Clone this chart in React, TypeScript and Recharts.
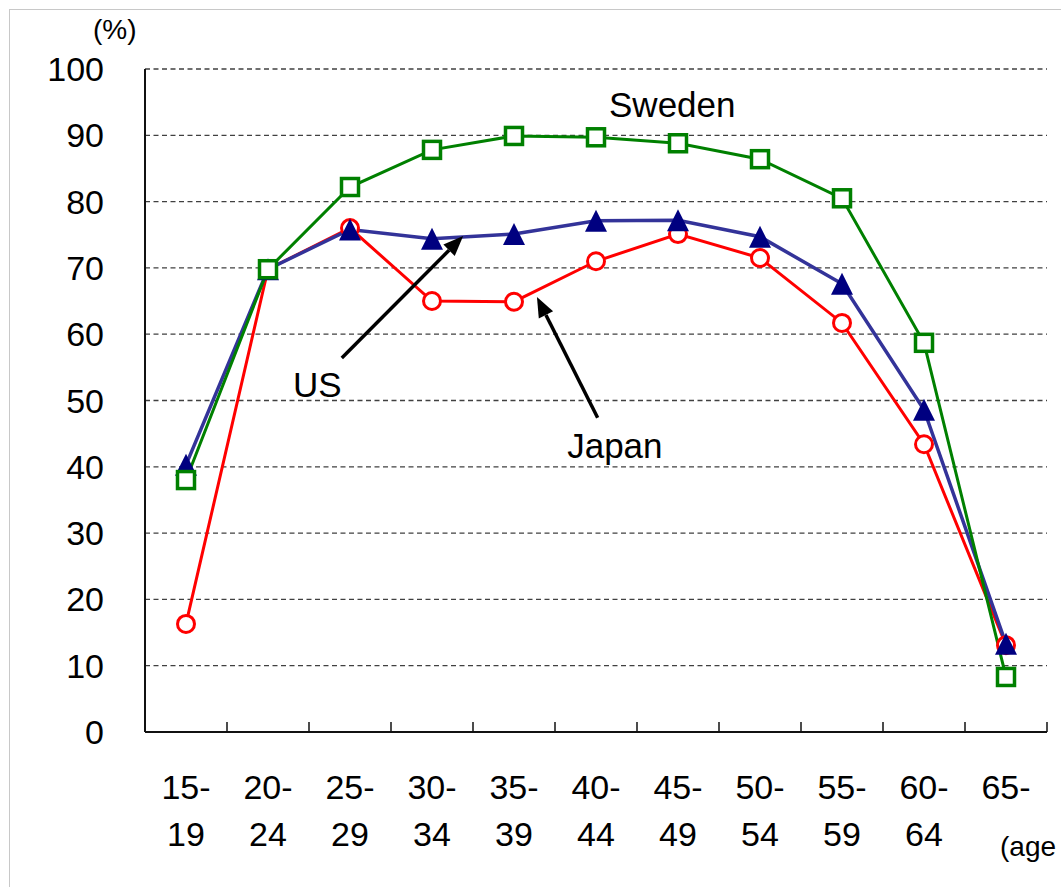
import {
  LineChart,
  Line,
  XAxis,
  YAxis,
  CartesianGrid,
  ReferenceLine,
  ReferenceDot,
} from "recharts";

const ageGroups = ["15-19", "20-24", "25-29", "30-34", "35-39", "40-44", "45-49", "50-54", "55-59", "60-64", "65-"];
const sweden = [38.0, 69.8, 82.2, 87.8, 89.9, 89.7, 88.8, 86.4, 80.5, 58.7, 8.3];
const us = [40.3, 69.8, 75.8, 74.4, 75.1, 77.1, 77.2, 74.7, 67.6, 48.6, 13.3];
const japan = [16.3, 69.8, 76.0, 65.0, 64.9, 71.0, 75.1, 71.5, 61.7, 43.4, 13.1];
const yTicks = [0, 10, 20, 30, 40, 50, 60, 70, 80, 90, 100];
const bandTicks = [1, 2, 3, 4, 5, 6, 7, 8, 9, 10, 11];

// annotation positions, in band units (x) and % (y)
const seriesLabels = [
  { text: "Sweden", x: 6.43, y: 94.6 },
  { text: "US", x: 2.1, y: 52.5 },
  { text: "Japan", x: 5.73, y: 43.3 },
];
const arrows = [
  { from: { x: 2.4, y: 56.4 }, to: { x: 3.88, y: 74.8 } },
  { from: { x: 5.52, y: 47.4 }, to: { x: 4.78, y: 65.6 } },
];

const data = ageGroups.map((age, i) => ({
  age,
  Sweden: sweden[i],
  US: us[i],
  Japan: japan[i],
}));

const FONT = "'Liberation Sans', Arial, sans-serif";

const AgeTick = ({ x, y, payload }: any) => {
  const [from, to] = String(payload.value).split("-");
  return (
    <g>
      <text x={x} y={y + 66} textAnchor="middle" fontSize={34} fontFamily={FONT} fill="#000">
        {from}-
      </text>
      {to && (
        <text x={x} y={y + 113} textAnchor="middle" fontSize={34} fontFamily={FONT} fill="#000">
          {to}
        </text>
      )}
    </g>
  );
};

const Square = ({ cx, cy }: any) => (
  <rect x={cx - 8.5} y={cy - 8.5} width={17} height={17} fill="#fff" stroke="#008000" strokeWidth={3.5} />
);

const Triangle = ({ cx, cy }: any) => (
  <polygon points={`${cx},${cy - 11} ${cx - 11},${cy + 11} ${cx + 11},${cy + 11}`} fill="#000080" />
);

const Ring = ({ cx, cy }: any) => (
  <circle cx={cx} cy={cy} r={8.5} fill="#fff" stroke="#ff0000" strokeWidth={3} />
);

const Arrow = ({ x1, y1, x2, y2 }: any) => {
  const a = Math.atan2(y2 - y1, x2 - x1);
  const len = 20;
  const w = 8;
  const bx = x2 - len * Math.cos(a);
  const by = y2 - len * Math.sin(a);
  const px = -Math.sin(a) * w;
  const py = Math.cos(a) * w;
  return (
    <g>
      <line x1={x1} y1={y1} x2={bx} y2={by} stroke="#000" strokeWidth={3.5} />
      <polygon points={`${x2},${y2} ${bx + px},${by + py} ${bx - px},${by - py}`} fill="#000" />
    </g>
  );
};

export default function App() {
  return (
    <div style={{ position: "absolute", left: 0, top: 0, width: 1061, height: 887, background: "#fff" }}>
      <div
        style={{
          position: "absolute",
          left: 9,
          top: 9,
          width: 1052,
          height: 878,
          borderTop: "1.5px solid #c8c8c8",
          borderLeft: "1.5px solid #c8c8c8",
        }}
      />
      <LineChart
        width={1061}
        height={887}
        data={data}
        margin={{ top: 69, right: 14, bottom: 0, left: 85 }}
      >
        <CartesianGrid vertical={false} stroke="#404040" strokeDasharray="5 3.5" strokeWidth={1.3} />
        <XAxis
          xAxisId="cat"
          dataKey="age"
          scale="band"
          height={154}
          axisLine={false}
          tickLine={false}
          tickSize={0}
          tickMargin={0}
          interval={0}
          tick={<AgeTick />}
        />
        <XAxis
          xAxisId="axisBand"
          dataKey="none"
          type="number"
          domain={[0, 11]}
          allowDataOverflow
          ticks={bandTicks}
          height={1}
          axisLine={{ stroke: "#111", strokeWidth: 2 }}
          tickLine={{ stroke: "#111", strokeWidth: 1.5 }}
          tickSize={-10}
          tick={() => <g />}
        />
        <YAxis
          width={60}
          domain={[0, 100]}
          ticks={yTicks}
          interval={0}
          axisLine={{ stroke: "#111", strokeWidth: 2 }}
          tickLine={false}
          tickSize={0}
          tickMargin={41}
          tick={{ fill: "#000", fontSize: 34, fontFamily: FONT }}
        />
        <Line
          xAxisId="cat"
          dataKey="Japan"
          type="linear"
          stroke="#ff0000"
          strokeWidth={3}
          dot={(p: any) => <Ring key={p.index} {...p} />}
          activeDot={false}
          isAnimationActive={false}
        />
        <Line
          xAxisId="cat"
          dataKey="US"
          type="linear"
          stroke="#333399"
          strokeWidth={3.5}
          dot={(p: any) => <Triangle key={p.index} {...p} />}
          activeDot={false}
          isAnimationActive={false}
        />
        <Line
          xAxisId="cat"
          dataKey="Sweden"
          type="linear"
          stroke="#008000"
          strokeWidth={3}
          dot={(p: any) => <Square key={p.index} {...p} />}
          activeDot={false}
          isAnimationActive={false}
        />
        {arrows.map((a, i) => (
          <ReferenceLine
            key={i}
            xAxisId="axisBand"
            segment={[a.from, a.to]}
            ifOverflow="visible"
            shape={(p: any) => <Arrow {...p} />}
          />
        ))}
        {seriesLabels.map((l) => (
          <ReferenceDot
            key={l.text}
            xAxisId="axisBand"
            x={l.x}
            y={l.y}
            ifOverflow="visible"
            shape={(p: any) => (
              <text x={p.cx} y={p.cy} dy="0.36em" textAnchor="middle" fontSize={35} fontFamily={FONT} fill="#000">
                {l.text}
              </text>
            )}
          />
        ))}
      </LineChart>
      <svg width={1061} height={887} style={{ position: "absolute", left: 0, top: 0, pointerEvents: "none" }}>
        <text x={93} y={39} fontSize={28} fontFamily={FONT} fill="#000">
          (%)
        </text>
        <text x={1000} y={856} fontSize={28} fontFamily={FONT} fill="#000">
          (age
        </text>
      </svg>
    </div>
  );
}
